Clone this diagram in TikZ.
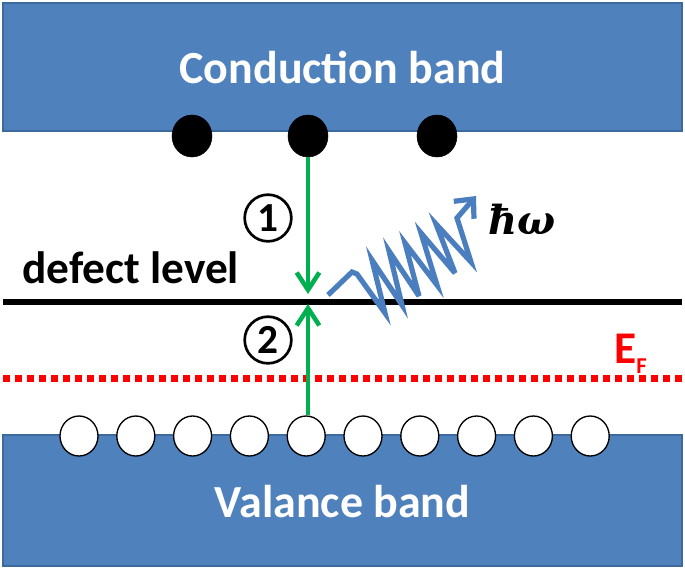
\documentclass[tikz,border=0pt]{standalone}
\usepackage{fontspec}
\setmainfont{Carlito}
\newfontfamily\hwfont{DejaVu Serif}
\usetikzlibrary{shapes.geometric,arrows.meta}
\definecolor{bandblue}{HTML}{4F81BD}
\definecolor{bandedge}{HTML}{3C6A9E}
\definecolor{pgreen}{HTML}{00B050}
\definecolor{pblue}{HTML}{4A7EBF}
\begin{document}
\begin{tikzpicture}[x=0.75pt,y=-0.75pt,
  band/.style={fill=bandblue,draw=bandedge,line width=1.1pt},
  bandtext/.style={text=white,font=\fontsize{34.5}{37}\selectfont\bfseries,inner sep=0pt},
  electron/.style={ellipse,fill=black,draw=black,minimum width=30pt,minimum height=31.5pt,inner sep=0pt},
  hole/.style={ellipse,fill=white,draw=black,line width=1pt,minimum width=28.5pt,minimum height=30pt,inner sep=0pt},
  garrow/.style={draw=pgreen,line width=3.4pt,-{Straight Barb[length=13pt,width=17pt]}},
  photon/.style={draw=pblue,line width=3.9pt,miter limit=6,-{Straight Barb[length=11pt,width=20pt]}},
  defect/.style={draw=black,line width=3.9pt},
  fermi/.style={draw=red,line width=5.2pt,dash pattern=on 5.2pt off 3.8pt},
  numcirc/.style={circle,draw=black,line width=2pt,minimum size=35pt,inner sep=0pt,font=\fontsize{31}{32}\selectfont\bfseries},
  label/.style={font=\fontsize{34}{36}\selectfont\bfseries,inner sep=0pt}
]
\useasboundingbox (0,0) rectangle (685,569);
\fill[white] (0,0) rectangle (685,569);
% bands
\draw[band] (3,3) rectangle (682,131);
\node[bandtext] (cb) at (342.5,67.5) {Conduction band};
\draw[band] (3,435) rectangle (682,566);
\node[bandtext] (vb) at (342.5,502) {Valance band};
% Fermi level
\coordinate (efL) at (3,378.5);
\coordinate (efR) at (684,378.5);
\draw[fermi] (efL) -- (efR);
\node[anchor=base west,text=red,label] (ef) at (614,363) {E\raisebox{-7.5pt}{\fontsize{17}{18}\selectfont F}};
% defect level
\coordinate (dlL) at (3,302);
\coordinate (dlR) at (682,302);
\draw[defect] (dlL) -- (dlR);
\node[label,anchor=base west] (dtext) at (22,283) {defect level};
% electrons
\node[electron] (e1) at (192,136) {};
\node[electron] (e2) at (308,136) {};
\node[electron] (e3) at (437,136) {};
% holes
\foreach \i in {0,...,9} \node[hole] (h\i) at ({79+56.8*\i},436) {};
% transitions
\coordinate (t1) at (308,294);
\coordinate (t2) at (308,304);
\draw[garrow] (e2.south) -- (t1);
\draw[garrow] (e2 |- h4.north) -- (t2);
\node[numcirc] (n1) at (268,218) {1};
\node[numcirc] (n2) at (268,340) {2};
% photon
\draw[photon] (328,295) -- (352,272) -- (357,274) -- (385,313) -- (372,260) -- (402,305)
  -- (389,251) -- (419,296) -- (405,243) -- (437,285) -- (421,233) -- (455,273)
  -- (436,224) -- (471,262) -- (457,218) -- (476,196);
\node[font=\fontsize{30}{32}\selectfont\hwfont\bfseries\itshape,inner sep=0pt] (hw) at (522,219) {ħω};
\end{tikzpicture}
\end{document}
